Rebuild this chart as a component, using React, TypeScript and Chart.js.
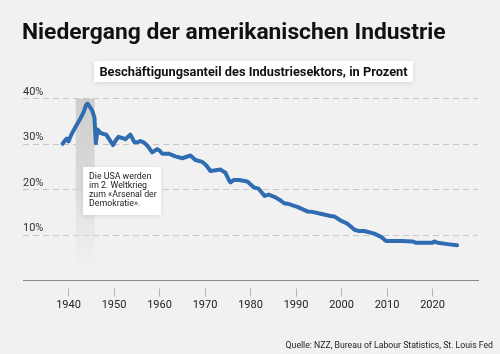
import React, { useEffect, useRef } from "react";
import { Chart, registerables } from "chart.js";

Chart.register(...registerables);

const TITLE = "Niedergang der amerikanischen Industrie";
const SUBTITLE = "Beschäftigungsanteil des Industriesektors, in Prozent";
const SOURCE = "Quelle: NZZ, Bureau of Labour Statistics, St. Louis Fed";
const NOTE_LINES = ["Die USA werden", "im 2. Weltkrieg", "zum «Arsenal der", "Demokratie»."];

const YEARS = [
  1938.7, 1939.3, 1939.6, 1940.0, 1940.5, 1941.0, 1941.5, 1942.0, 1942.6, 1943.3,
  1943.9, 1944.2, 1944.7, 1945.2, 1945.7, 1946.0, 1946.4, 1947.0, 1947.5, 1948.3,
  1949.0, 1949.8, 1950.5, 1951.0, 1952.0, 1952.5, 1953.6, 1954.5, 1955.2, 1955.8,
  1956.5, 1957.3, 1958.4, 1959.5, 1960.0, 1960.6, 1962.0, 1963.5, 1965.0, 1966.8,
  1967.9, 1969.4, 1970.3, 1971.2, 1972.0, 1973.4, 1974.5, 1975.3, 1975.6, 1976.3,
  1977.5, 1979.3, 1980.7, 1981.8, 1983.1, 1984.0, 1985.5, 1986.6, 1987.4, 1988.1,
  1990.3, 1992.5, 1993.6, 1995.4, 1997.6, 1998.4, 1999.8, 2001.3, 2002.8, 2003.7,
  2005.0, 2007.2, 2008.7, 2009.8, 2013.1, 2015.6, 2016.4, 2020.0, 2020.4, 2021.1,
  2023.3, 2025.4,
];
const SHARE = [
  30.1, 30.9, 31.2, 30.6, 31.8, 32.8, 33.7, 34.6, 35.6, 37.0,
  38.7, 38.9, 38.2, 37.4, 35.9, 30.2, 33.2, 32.5, 32.3, 32.1,
  31.0, 29.8, 31.0, 31.6, 31.3, 31.1, 32.1, 30.4, 30.4, 30.7,
  30.4, 29.7, 28.2, 28.9, 28.6, 27.9, 27.9, 27.3, 26.9, 27.5,
  26.5, 26.1, 25.3, 24.1, 24.2, 24.4, 23.7, 22.0, 21.6, 22.1,
  22.1, 21.8, 20.5, 20.2, 18.6, 18.9, 18.3, 17.6, 17.0, 16.9,
  16.2, 15.2, 15.1, 14.7, 14.2, 14.1, 13.2, 12.5, 11.2, 10.9,
  10.9, 10.3, 9.6, 8.7, 8.7, 8.6, 8.3, 8.3, 8.6, 8.3,
  8.0, 7.75,
];

const X_TICK_YEARS = [1940, 1950, 1960, 1970, 1980, 1990, 2000, 2010, 2020];
const X_MIN = 1930;
const X_MAX = 2030;
const Y_MIN = 0;
const Y_MAX = 40;
const Y_STEP = 10;
const WAR_START = 1941.6;
const WAR_END = 1945.75;
const WAR_BAND_BOTTOM = 2;

const warBand = {
  id: "warBand",
  beforeDatasetsDraw(chart: any) {
    const { ctx, scales } = chart;
    const x1 = scales.x.getPixelForValue(WAR_START);
    const x2 = scales.x.getPixelForValue(WAR_END);
    const top = scales.y.getPixelForValue(Y_MAX);
    const bottom = scales.y.getPixelForValue(WAR_BAND_BOTTOM);
    const g = ctx.createLinearGradient(0, top, 0, bottom);
    g.addColorStop(0, "rgba(205,205,205,1)");
    g.addColorStop(0.55, "rgba(215,215,215,0.85)");
    g.addColorStop(1, "rgba(230,230,230,0)");
    ctx.save();
    ctx.fillStyle = g;
    ctx.fillRect(x1, top, x2 - x1, bottom - top);
    ctx.restore();
  },
};

export default function App() {
  const ref = useRef<HTMLCanvasElement | null>(null);

  useEffect(() => {
    if (!ref.current) return;
    Chart.defaults.font.family = "Roboto";
    const chart = new Chart(ref.current, {
      type: "line",
      data: {
        datasets: [
          {
            data: YEARS.map((y, i) => ({ x: y, y: SHARE[i] })),
            borderColor: "#2f6cb2",
            borderWidth: 4,
            pointRadius: 0,
            tension: 0,
            borderJoinStyle: "round",
            borderCapStyle: "round",
            fill: false,
          },
        ],
      },
      options: {
        responsive: false,
        maintainAspectRatio: false,
        animation: false,
        events: [],
        layout: { padding: { left: 23, right: 22, top: 98.7, bottom: 43.5 } },
        plugins: { legend: { display: false }, tooltip: { enabled: false }, title: { display: false } },
        scales: {
          x: {
            type: "linear",
            min: X_MIN,
            max: X_MAX,
            afterBuildTicks: (scale: any) => {
              scale.ticks = X_TICK_YEARS.map((v) => ({ value: v }));
            },
            afterFit: (scale: any) => {
              scale.height = 30;
            },
            border: { display: true, color: "#8a8a8a", width: 1 },
            grid: {
              drawOnChartArea: false,
              drawTicks: true,
              tickLength: 16,
              tickColor: "#b0b0b0",
              tickWidth: 1,
              tickBorderDash: [0, 7.5, 8, 100],
            },
            ticks: {
              callback: (v: any) => String(v),
              font: { size: 11 },
              color: "#222",
              padding: 2,
              maxRotation: 0,
              autoSkip: false,
            },
          },
          y: {
            min: Y_MIN,
            max: Y_MAX,
            afterFit: (scale: any) => {
              scale.width = 0;
            },
            border: { display: false, dash: [6, 4] },
            grid: {
              drawTicks: false,
              color: (c: any) => (c.tick && c.tick.value === 0 ? "rgba(0,0,0,0)" : "#c6c6c6"),
              lineWidth: 1,
            },
            ticks: {
              stepSize: Y_STEP,
              mirror: true,
              padding: 0,
              labelOffset: -6.5,
              font: { size: 11 },
              color: "#333",
              callback: (v: any) => (v === 0 ? "" : v + "%"),
            },
          },
        },
      },
      plugins: [warBand],
    } as any);
    return () => chart.destroy();
  }, []);

  return (
    <div
      style={{
        position: "fixed",
        left: 0,
        top: 0,
        width: 500,
        height: 354,
        background: "#f1f1f1",
        fontFamily: "Roboto, sans-serif",
        overflow: "hidden",
      }}
    >
      <canvas ref={ref} width={500} height={354} style={{ position: "absolute", left: 0, top: 0, width: 500, height: 354 }} />
      <div
        style={{
          position: "absolute",
          left: 22,
          top: 20,
          fontSize: 22.8,
          lineHeight: "23px",
          fontWeight: 700,
          color: "#111",
          whiteSpace: "nowrap",
        }}
      >
        {TITLE}
      </div>
      <div
        style={{
          position: "absolute",
          left: 94,
          top: 61,
          width: 319,
          height: 21,
          lineHeight: "21px",
          background: "#fff",
          boxShadow: "0 1px 5px rgba(0,0,0,0.12)",
          textAlign: "center",
          fontSize: 12.8,
          fontWeight: 700,
          color: "#111",
          whiteSpace: "nowrap",
        }}
      >
        {SUBTITLE}
      </div>
      <div
        style={{
          position: "absolute",
          left: 83,
          top: 167,
          width: 72,
          height: 43,
          padding: "5px 0 0 6px",
          background: "#fff",
          boxShadow: "0 1px 4px rgba(0,0,0,0.1)",
          fontSize: 8.8,
          lineHeight: "9.1px",
          color: "#222",
          whiteSpace: "nowrap",
        }}
      >
        {NOTE_LINES.map((l, i) => (
          <div key={i}>{l}</div>
        ))}
      </div>
      <div
        style={{
          position: "absolute",
          right: 7,
          top: 339,
          fontSize: 8.7,
          lineHeight: "12px",
          color: "#222",
          whiteSpace: "nowrap",
        }}
      >
        {SOURCE}
      </div>
    </div>
  );
}
